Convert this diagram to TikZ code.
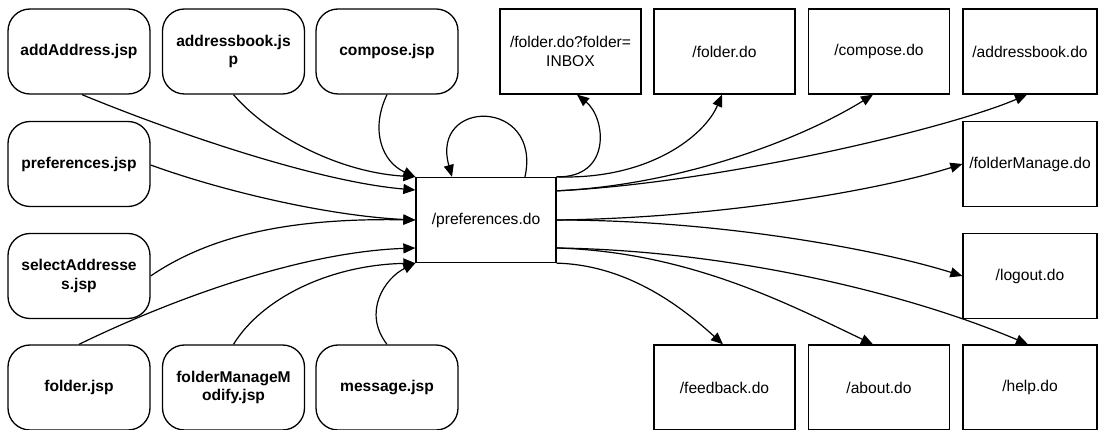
\documentclass[tikz,border=0pt]{standalone}
\usepackage{fontspec}
\setmainfont{Liberation Sans}
\usetikzlibrary{arrows.meta}
\begin{document}
\begin{tikzpicture}[x=1pt,y=-1pt,
  page/.style={draw, line width=1.3pt, rounded corners=22pt,
    minimum width=142pt, minimum height=85pt, inner sep=0pt, align=center,
    font=\bfseries\fontsize{15.6}{18.8}\selectfont},
  action/.style={draw, line width=1.3pt, minimum width=141pt,
    minimum height=85pt, inner sep=0pt, align=center,
    font=\fontsize{15.6}{18.8}\selectfont},
  narrow/.style={minimum width=134pt},
  link/.style={draw, line width=1.2pt, -{Triangle[length=12pt,width=10pt]}}]
\useasboundingbox (0,0) rectangle (1098,430);

% JSP pages (sources)
\node[page] (aa) at (79,51.5)    {addAddress.jsp};
\node[page] (ab) at (233.5,51.5) {addressbook.js\\p};
\node[page] (cj) at (387,51.5)   {compose.jsp};
\node[page] (pj) at (79,164)     {preferences.jsp};
\node[page] (sa) at (79,276)     {selectAddresse\\s.jsp};
\node[page] (fj) at (79,387.5)   {folder.jsp};
\node[page] (fm) at (233.5,387.5){folderManageM\\odify.jsp};
\node[page] (mj) at (387,387.5)  {message.jsp};

% central action
\node[action, minimum width=140pt] (pd) at (486,220) {/preferences.do};

% target actions
\node[action] (inbox) at (570.5,51.5) {/folder.do?folder=\\INBOX};
\node[action] (fd)    at (724.5,51.5) {/folder.do};
\node[action] (cd)    at (879,51.5)   {/compose.do};
\node[action,narrow] (adb) at (1030,51.5) {/addressbook.do};
\node[action,narrow] (fmd) at (1030,164)  {/folderManage.do};
\node[action,narrow] (lo)  at (1030,276)  {/logout.do};
\node[action] (fb)    at (724.5,387.5) {/feedback.do};
\node[action] (abo)   at (879,387.5)   {/about.do};
\node[action,narrow] (he)  at (1030,387.5) {/help.do};

% incoming links
\draw[link] ([xshift=3pt]aa.south) .. controls (180,135) and (320,182) .. ([yshift=30pt]pd.west);
\draw[link] (ab.south) .. controls (265,132) and (335,172) .. (pd.north west);
\draw[link] (cj.south) .. controls (370,130) and (382,162) .. (pd.north west);
\draw[link] ([yshift=-1pt]pj.east) .. controls (225,192) and (330,216) .. (pd.west);
\draw[link] (sa.east) .. controls (215,232) and (300,218) .. (pd.west);
\draw[link] (fj.north) .. controls (170,300) and (300,252) .. ([yshift=-28pt]pd.west);
\draw[link] (fm.north) .. controls (262,298) and (330,265) .. (pd.south west);
\draw[link] (mj.north) .. controls (362,312) and (385,278) .. (pd.south west);

% self loop
\draw[link] ([xshift=39pt]pd.north) .. controls (542,98) and (430,98) .. ([xshift=-34pt]pd.north);

% outgoing links
\draw[link] (pd.north east) .. controls (612,178) and (606,118) .. ([xshift=6.5pt]inbox.south);
\draw[link] (pd.north east) .. controls (650,180) and (705,135) .. ([xshift=-2.5pt]fd.south);
\draw[link] ([yshift=-14pt]pd.north east) .. controls (680,185) and (800,140) .. ([xshift=-6pt]cd.south);
\draw[link] ([yshift=-14pt]pd.north east) .. controls (720,183) and (950,128) .. ([xshift=-3pt]adb.south);
\draw[link] (pd.east) .. controls (720,218) and (880,190) .. (fmd.west);
\draw[link] (pd.east) .. controls (720,220) and (880,250) .. (lo.west);
\draw[link] ([yshift=-28pt]pd.east) .. controls (720,250) and (900,290) .. ([xshift=-2pt]he.north);
\draw[link] ([yshift=-28pt]pd.east) .. controls (690,252) and (790,305) .. ([xshift=-6pt]abo.north);
\draw[link] (pd.south east) .. controls (630,265) and (685,310) .. ([xshift=-1.5pt]fb.north);
\end{tikzpicture}
\end{document}
